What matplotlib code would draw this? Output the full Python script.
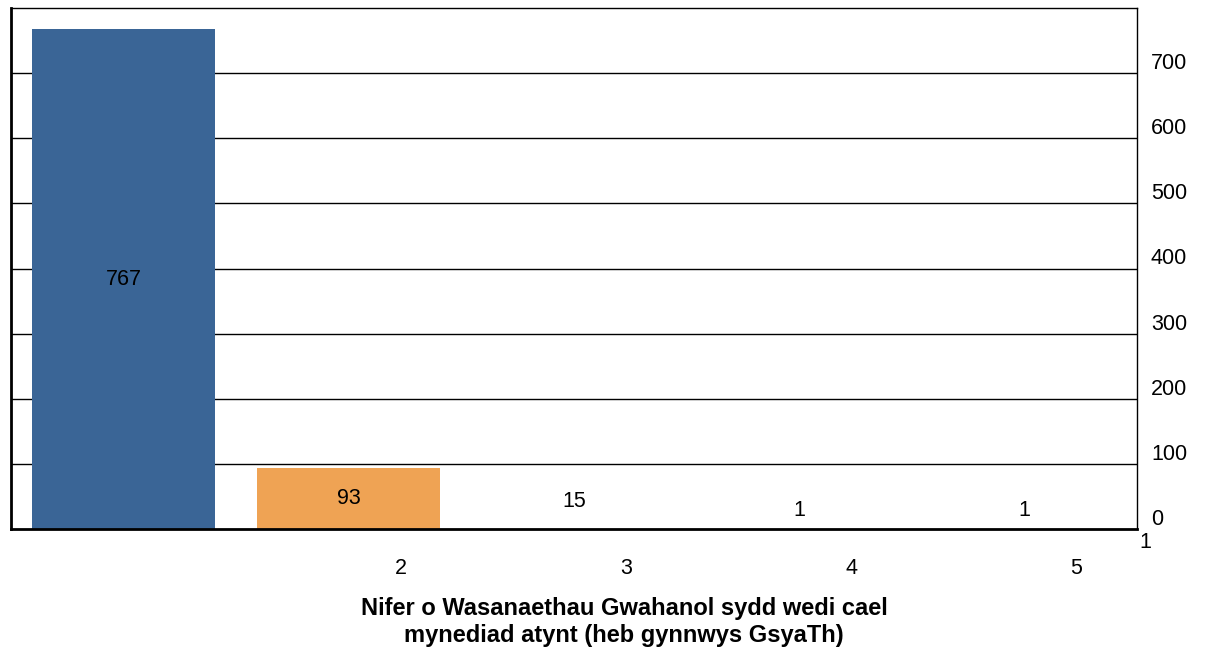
import numpy as np
import matplotlib.pyplot as plt
import matplotlib.transforms as mtransforms

plt.rcParams['font.family'] = ['Liberation Sans', 'DejaVu Sans']

categories = [1, 2, 3, 4, 5]
values = [767, 93, 15, 1, 1]
bar_colors = ['#3A6596', '#EFA354', 'white', 'white', 'white']
y_ticks = [0, 100, 200, 300, 400, 500, 600, 700]
x_title = "Nifer o Wasanaethau Gwahanol sydd wedi cael\nmynediad atynt (heb gynnwys GsyaTh)"

fs = 15.5

fig = plt.figure(figsize=(12.11, 6.52), dpi=100)
ax = fig.add_axes([11 / 1211, 1 - 529 / 652, 1126 / 1211, 521 / 652])

ax.set_xlim(0.5, 5.5)
ax.set_ylim(0, 800)

for yv in y_ticks[1:]:
    ax.axhline(yv, color='black', lw=1.0, zorder=1)

ax.bar(categories, values, width=0.813, color=bar_colors, zorder=2)

# value labels
for c, v in zip(categories, values):
    if v > 60:
        ax.text(c, v / 2, str(v), ha='center', va='center', fontsize=fs, zorder=3)
    else:
        ax.annotate(str(v), (c, v), xytext=(0, 13), textcoords='offset points',
                    ha='center', va='center', fontsize=fs, zorder=3)

for s in ['left', 'bottom']:
    ax.spines[s].set_linewidth(2.0)
for s in ['top', 'right']:
    ax.spines[s].set_linewidth(1.0)

# right axis labels, shifted up
ax.yaxis.tick_right()
ax.set_yticks(y_ticks)
ax.set_yticklabels([str(t) for t in y_ticks], fontsize=fs)
ax.tick_params(axis='y', length=0, pad=10)
up = mtransforms.ScaledTranslation(0, 12 / 100, fig.dpi_scale_trans)
for lab in ax.get_yticklabels():
    lab.set_horizontalalignment('left')
    lab.set_transform(lab.get_transform() + up)

# x tick labels shifted right
ax.set_xticks(categories[1:])
ax.set_xticklabels([str(c) for c in categories[1:]], fontsize=fs)
ax.tick_params(axis='x', length=0, pad=21)
right = mtransforms.ScaledTranslation(52 / 100, 0, fig.dpi_scale_trans)
for lab in ax.get_xticklabels():
    lab.set_transform(lab.get_transform() + right)

# first category label ended up at the right edge
fig.text(1145 / 1211, 1 - 542 / 652, str(categories[0]), ha='center', va='center', fontsize=fs)

fig.text(624 / 1211, 1 - 622 / 652, x_title, ha='center', va='center',
         fontsize=17, fontweight='bold', linespacing=1.2)

fig.savefig('out.png', dpi=100)
